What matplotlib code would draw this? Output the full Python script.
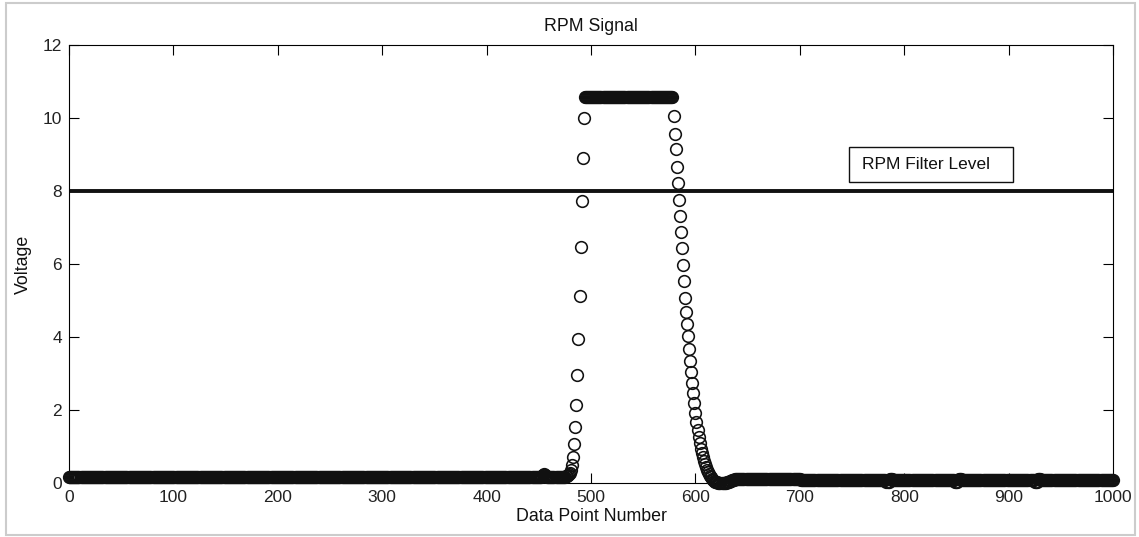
import numpy as np
import matplotlib
matplotlib.use('Agg')
import matplotlib.pyplot as plt
from matplotlib.patches import Rectangle

plt.rcParams['font.family'] = ['Liberation Sans', 'DejaVu Sans']

############################### Data ###############################

n_points = 1001
filter_level = 8.0
x_ticks = [0, 100, 200, 300, 400, 500, 600, 700, 800, 900, 1000]
y_ticks = [0, 2, 4, 6, 8, 10, 12]

# quiet signal before the pulse (samples 0-450)
lead_level, lead_count = 0.16, 451

# samples 451-480
lead_tail = [0.16, 0.17, 0.19, 0.22, 0.24, 0.22, 0.19, 0.17, 0.16, 0.16,
             0.16, 0.16, 0.16, 0.16, 0.16, 0.16, 0.16, 0.16, 0.16, 0.16,
             0.16, 0.16, 0.16, 0.16, 0.17, 0.18, 0.20, 0.22, 0.25, 0.28]

# leading edge, samples 481-493
rise = [0.35, 0.50, 0.71, 1.07, 1.53, 2.14, 2.96, 3.95, 5.12, 6.47,
        7.73, 8.90, 10.0]

# saturated pulse, samples 494-578
plateau_level, plateau_count = 10.58, 85

# trailing edge and undershoot, samples 579-644
fall = [10.05, 9.56, 9.14, 8.65, 8.21, 7.75, 7.32, 6.88, 6.44, 5.97,
        5.53, 5.08, 4.69, 4.36, 4.03, 3.66, 3.35, 3.05, 2.75, 2.46,
        2.18, 1.91, 1.67, 1.45, 1.26, 1.09, 0.94, 0.81, 0.70, 0.60,
        0.51, 0.43, 0.36, 0.30, 0.25, 0.20, 0.16, 0.12, 0.09, 0.06,
        0.04, 0.03, 0.02, 0.01, 0.00, 0.00, 0.00, 0.00, 0.00, 0.00,
        0.01, 0.02, 0.03, 0.04, 0.05, 0.06, 0.07, 0.08, 0.09, 0.10,
        0.10, 0.11, 0.11, 0.12, 0.12, 0.12]

# quiet signal after the pulse (samples 645-1000) as (level, count)
trail_runs = [(0.12, 56), (0.08, 82), (0.04, 3), (0.11, 3), (0.08, 60),
              (0.04, 3), (0.11, 3), (0.08, 70), (0.04, 3), (0.11, 3),
              (0.08, 70)]

signal = np.concatenate([
    np.full(lead_count, lead_level),
    lead_tail,
    rise,
    np.full(plateau_count, plateau_level),
    fall,
    np.concatenate([np.full(c, v) for v, c in trail_runs]),
])
samples = np.arange(n_points)
filter_line = np.full(n_points, filter_level)

############################### Plot ###############################

fig = plt.figure(figsize=(11.39, 5.37), dpi=100)
ax = fig.add_axes([0.0606, 0.1006, 0.9166, 0.8156])

ax.plot(samples, filter_line, color='#111111', linewidth=2.8, zorder=2)
ax.plot(samples, signal, 'o', markerfacecolor='none', markeredgecolor='#111111',
        markersize=8.4, markeredgewidth=1.15, clip_on=False, zorder=3)

ax.set_xlim(0, 1000)
ax.set_ylim(0, 12)
ax.set_xticks(x_ticks)
ax.set_yticks(y_ticks)
ax.tick_params(direction='in', length=7, width=0.8, top=True, right=True,
               labelsize=12.5, labelcolor='#222222', pad=5)
for s in ax.spines.values():
    s.set_linewidth(0.8)

ax.set_title('RPM Signal', fontsize=12.8, pad=10, color='#111111')
ax.set_xlabel('Data Point Number', fontsize=12.8, labelpad=2, color='#111111')
ax.set_ylabel('Voltage', fontsize=12.8, labelpad=8, color='#111111')

# annotation box for the threshold line
ax.add_patch(Rectangle((0.747, 0.687), 0.157, 0.080, transform=ax.transAxes,
                       fill=False, edgecolor='#111111', linewidth=1.0, zorder=4))
ax.text(0.7596, 0.728, 'RPM Filter Level', transform=ax.transAxes,
        fontsize=12.5, va='center', ha='left', color='#111111')

# thin grey frame round the whole figure
fig.patches.append(Rectangle((0.0053, 0.0037), 0.9912, 0.9907, transform=fig.transFigure,
                             fill=False, edgecolor='#cccccc', linewidth=1.5))

fig.savefig('out.png', dpi=100)
